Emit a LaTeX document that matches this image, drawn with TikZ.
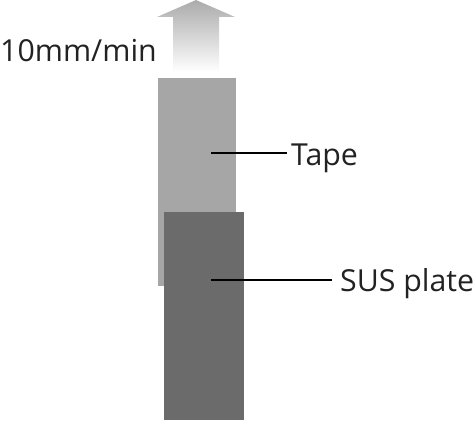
\documentclass[tikz,border=0pt]{standalone}
\usepackage{fontspec}
\setmainfont{Open Sans}
\definecolor{tapegray}{HTML}{A6A6A6}
\definecolor{plategray}{HTML}{6B6B6B}
\definecolor{arrowgray}{HTML}{ABABAB}
\definecolor{textgray}{HTML}{222222}
\begin{document}
\begin{tikzpicture}[x=1pt, y=-1pt,
    box/.style={rectangle, inner sep=0pt, minimum width=#1},
    lbl/.style={inner sep=0pt, anchor=base west, text=textgray,
        font=\fontsize{30.3}{36}\selectfont},
    lead/.style={line width=2pt, black}]
    \useasboundingbox (0,0) rectangle (476,420);

    % Draw the pulling arrow
    \shade[top color=arrowgray, bottom color=white]
        (196,0) -- (235,17) -- (219,17) -- (219,72) -- (173,72)
        -- (173,17) -- (157,17) -- cycle;

    % Draw the tape and the plate
    \node[box=78pt, minimum height=208pt, fill=tapegray] (tape) at (197,182) {};
    \node[box=80pt, minimum height=208pt, fill=plategray] (plate) at (204,316) {};

    % Labels
    \node[lbl] (speed) at (0,62) {10mm/min};
    \node[lbl] (tapelabel) at (291,165) {Tape};
    \node[lbl] (platelabel) at (340,291) {SUS plate};

    % Leader lines
    \coordinate (tapept) at (211,153);
    \coordinate (platept) at (211,280);
    \draw[lead] (tapept) -- ([xshift=-4pt]tapept -| tapelabel.west);
    \draw[lead] (platept) -- ([xshift=-8pt]platept -| platelabel.west);
\end{tikzpicture}
\end{document}
